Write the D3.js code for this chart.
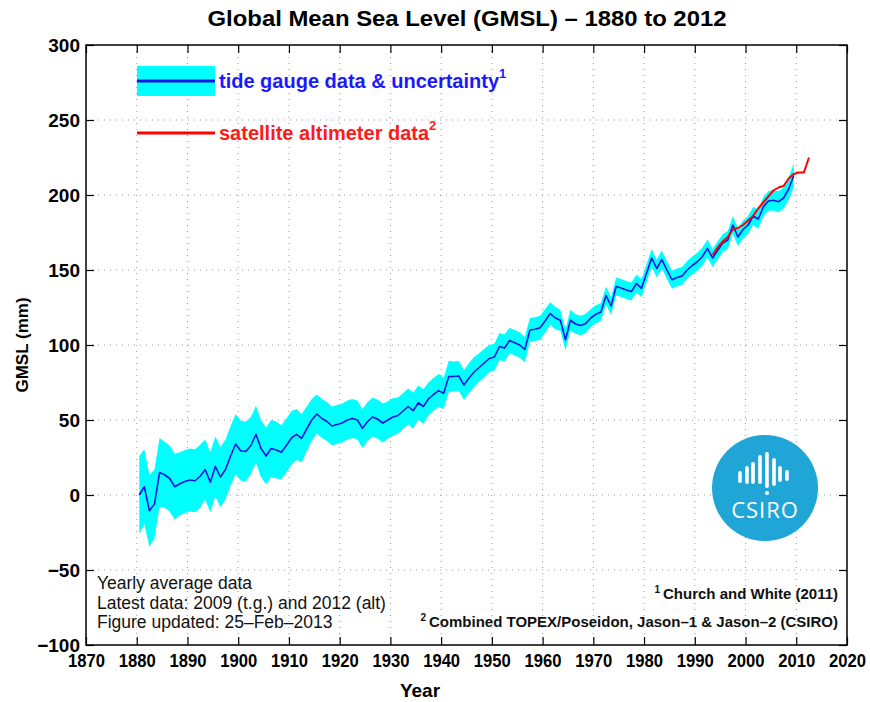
<!DOCTYPE html>
<html><head><meta charset="utf-8">
<script src="https://cdn.jsdelivr.net/npm/d3@7"></script>
<style>
html,body{margin:0;padding:0;background:#fff;}
svg{display:block;font-family:"Liberation Sans",Arial,Helvetica,sans-serif;}
</style></head><body>
<svg id="chart" width="870" height="702"></svg>
<script>
// ---------------- DATA ----------------
const tideStartYear = 1880;           // yearly means, plotted at mid-year
const tideValues = [
  0, 5.5, -10.5, -6, 15, 13.5, 11, 5.5, 7.5, 9,            // 1880s
  10, 9.5, 12.5, 17, 8.5, 19, 12, 17, 26, 34,              // 1890s
  29.5, 29, 33, 40.5, 31, 26, 31, 30, 28.5, 33,            // 1900s
  38, 40.4, 37.8, 44, 50, 54, 51, 49, 46, 47,              // 1910s
  48, 50, 51, 50, 44.4, 49, 52, 50.5, 48, 50,              // 1920s
  52, 53, 56, 59, 56.2, 61.5, 59, 64, 67, 69.6,            // 1930s
  67.8, 79, 79, 79.3, 73.3, 78, 82, 85, 88, 91,            // 1940s
  92, 99, 98, 103, 101.5, 100, 97, 110, 110.5, 111.5,      // 1950s
  116, 121, 118, 116.5, 103.5, 116.5, 114, 113, 114.4, 118,// 1960s
  120.5, 122, 133, 126, 139, 138, 136.7, 135.6, 141, 137.8,// 1970s
  148, 158, 151, 157, 150, 143.5, 145, 146, 150, 153,      // 1980s
  155.5, 159, 164.4, 158, 163, 168, 170, 180, 172, 177,    // 1990s
  180, 186, 184, 192, 196, 196.5, 195.5, 198, 204, 213     // 2000s
];
const tideUncertainty = [
  26, 25, 24, 23, 23, 22, 22, 22, 21, 21,
  21, 21, 21, 20, 20, 20, 20, 20, 20, 20,
  20, 20, 19, 19, 19, 19, 19, 19, 18, 18,
  18, 17, 16, 15, 14, 13, 13, 13, 13, 13,
  13, 13, 13, 13, 13, 13, 13, 13, 13, 12.5,
  12.5, 12, 12, 12, 12, 11.5, 11.5, 11, 11, 11,
  10.5, 10.5, 10, 10, 10, 10, 10, 9.5, 9.5, 9,
  9, 9, 9, 8.5, 8.5, 8.5, 8.5, 8, 8, 8,
  8, 7.5, 7.5, 7, 7, 7, 6.5, 6.5, 6.5, 6,
  6, 6, 6, 6, 6, 6, 6, 6, 6, 6,
  6, 6, 6, 6, 6, 6, 6, 6, 6, 6,
  6, 6, 6, 6, 6, 6, 6, 6, 6, 6,
  6, 6, 6.5, 6.5, 6.5, 7, 7, 7, 7.5, 8
];
const satStartYear = 1993;
const satValues = [160, 165, 169, 172, 177, 178, 180, 183, 186, 191,
                   195, 199, 203, 205, 206, 211, 214, 215, 215, 225];
const xTicks = [1870, 1880, 1890, 1900, 1910, 1920, 1930, 1940, 1950, 1960, 1970, 1980, 1990, 2000, 2010, 2020];
const yTicks = [-100, -50, 0, 50, 100, 150, 200, 250, 300];
const titleText = "Global Mean Sea Level (GMSL) \u2013 1880 to 2012";
const xTitle = "Year";
const yTitle = "GMSL (mm)";
const legendLabels = ["tide gauge data & uncertainty", "satellite altimeter data"];
const notesLeft = ["Yearly average data", "Latest data: 2009 (t.g.) and 2012 (alt)", "Figure updated: 25\u2013Feb\u20132013"];
const notesRight = [["1", "Church and White (2011)"], ["2", "Combined TOPEX/Poseidon, Jason\u20131 & Jason\u20132 (CSIRO)"]];

// ---------------- CHART ----------------
const svg = d3.select("#chart");
const L = 86, R = 847, T = 45, B = 645;
const x = d3.scaleLinear().domain([1870, 2020]).range([L, R]);
const y = d3.scaleLinear().domain([-100, 300]).range([B, T]);

const tide = tideValues.map((v, i) => ({year: tideStartYear + i + 0.5, v, u: tideUncertainty[i]}));
const sat = satValues.map((v, i) => ({year: satStartYear + i + 0.5, v}));

// grid
const grid = svg.append("g").attr("stroke", "#9a9a9a").attr("stroke-width", 1).attr("stroke-dasharray", "1,5");
grid.selectAll("line.gx").data(xTicks.slice(1, -1)).join("line")
  .attr("x1", d => x(d)).attr("x2", d => x(d)).attr("y1", T).attr("y2", B);
grid.selectAll("line.gy").data(yTicks.slice(1, -1)).join("line")
  .attr("y1", d => y(d)).attr("y2", d => y(d)).attr("x1", L).attr("x2", R);

// uncertainty band
svg.append("path").datum(tide)
  .attr("fill", "#00ffff")
  .attr("d", d3.area().x(d => x(d.year)).y0(d => y(d.v - d.u)).y1(d => y(d.v + d.u)));
// tide gauge line
svg.append("path").datum(tide)
  .attr("fill", "none").attr("stroke", "#0a14e6").attr("stroke-width", 1.6).attr("stroke-linejoin", "round")
  .attr("d", d3.line().x(d => x(d.year)).y(d => y(d.v)));
// satellite line
svg.append("path").datum(sat)
  .attr("fill", "none").attr("stroke", "#ff0000").attr("stroke-width", 2).attr("stroke-linejoin", "round")
  .attr("d", d3.line().x(d => x(d.year)).y(d => y(d.v)));

// axes (inward ticks on all four sides)
const fs = 19;
const gx = svg.append("g").attr("transform", `translate(0,${B})`)
  .call(d3.axisBottom(x).tickValues(xTicks).tickFormat(d3.format("d")).tickSizeInner(-8).tickSizeOuter(0).tickPadding(9));
gx.selectAll("text").attr("font-size", fs).attr("font-weight", "bold").attr("fill", "#000")
  .attr("textLength", 37).attr("lengthAdjust", "spacingAndGlyphs");
const gy = svg.append("g").attr("transform", `translate(${L},0)`)
  .call(d3.axisLeft(y).tickValues(yTicks).tickFormat(d3.format("d")).tickSizeInner(-8).tickSizeOuter(0).tickPadding(6));
gy.selectAll("text").attr("font-size", fs).attr("font-weight", "bold").attr("fill", "#000");
const gt = svg.append("g").attr("transform", `translate(0,${T})`)
  .call(d3.axisTop(x).tickValues(xTicks).tickFormat("").tickSizeInner(-8).tickSizeOuter(0));
const gr = svg.append("g").attr("transform", `translate(${R},0)`)
  .call(d3.axisRight(y).tickValues(yTicks).tickFormat("").tickSizeInner(-8).tickSizeOuter(0));
[gx, gy, gt, gr].forEach(g => {
  g.select(".domain").remove();
  g.selectAll(".tick line").attr("stroke", "#000").attr("stroke-width", 1.2);
  g.attr("font-family", null);
});
svg.append("rect").attr("x", L).attr("y", T).attr("width", R - L).attr("height", B - T)
  .attr("fill", "none").attr("stroke", "#000").attr("stroke-width", 1.5);

// titles
svg.append("text").attr("x", 467).attr("y", 26).attr("text-anchor", "middle")
  .attr("font-size", 22).attr("font-weight", "bold").attr("textLength", 519).attr("lengthAdjust", "spacingAndGlyphs")
  .text(titleText);
svg.append("text").attr("x", 420).attr("y", 697).attr("text-anchor", "middle")
  .attr("font-size", 19).attr("font-weight", "bold").text(xTitle);
svg.append("text").attr("transform", "translate(28,345) rotate(-90)").attr("text-anchor", "middle")
  .attr("font-size", 17).attr("font-weight", "bold").text(yTitle);

// legend
const lg = svg.append("g");
lg.append("rect").attr("x", 137).attr("y", 66).attr("width", 78).attr("height", 30).attr("fill", "#00ffff");
lg.append("line").attr("x1", 137).attr("x2", 215).attr("y1", 81).attr("y2", 81).attr("stroke", "#0a14e6").attr("stroke-width", 3);
lg.append("line").attr("x1", 137).attr("x2", 215).attr("y1", 133).attr("y2", 133).attr("stroke", "#ff0000").attr("stroke-width", 3);
const lt1 = lg.append("text").attr("x", 219).attr("y", 88).attr("font-size", 20).attr("font-weight", "bold").attr("fill", "#1a1aff");
lt1.append("tspan").text(legendLabels[0]);
lt1.append("tspan").attr("dy", -10).attr("font-size", 13).text("1");
const lt2 = lg.append("text").attr("x", 219).attr("y", 140).attr("font-size", 20).attr("font-weight", "bold").attr("fill", "#ff1a1a");
lt2.append("tspan").text(legendLabels[1]);
lt2.append("tspan").attr("dy", -10).attr("font-size", 13).text("2");

// notes
svg.append("g").selectAll("text").data(notesLeft).join("text")
  .attr("x", 97).attr("y", (d, i) => 589 + i * 19.5)
  .attr("font-size", 17.5).attr("fill", "#111").text(d => d);
const nr = svg.append("g").selectAll("text").data(notesRight).join("text")
  .attr("x", 838).attr("y", (d, i) => 599 + i * 28).attr("text-anchor", "end")
  .attr("font-size", 15).attr("font-weight", "bold").attr("fill", "#111");
nr.append("tspan").attr("font-size", 10).attr("dy", -6).text(d => d[0]);
nr.append("tspan").attr("dy", 6).text(d => "\u2009" + d[1]);

// CSIRO logo
const logo = svg.append("g").attr("transform", "translate(765,488)");
logo.append("circle").attr("r", 53).attr("fill", "#1fa6d6");
const bars = [[-25, -17, -5], [-18, -22, -4], [-12, -26, -4], [-5, -33, -4], [2, -36, 0], [9, -30, -2], [15, -22, -6], [22, -18, -7]];
logo.selectAll("rect").data(bars).join("rect")
  .attr("x", d => d[0] - 1.8).attr("y", d => d[1]).attr("width", 3.6).attr("height", d => d[2] - d[1])
  .attr("rx", 1.8).attr("fill", "#fff");
logo.append("circle").attr("cx", 2).attr("cy", 5).attr("r", 2).attr("fill", "#fff");
logo.append("text").attr("y", 30).attr("text-anchor", "middle").attr("font-size", 22)
  .attr("fill", "#fff").attr("letter-spacing", 1).attr("font-family", "'Open Sans', 'Liberation Sans', sans-serif").text("CSIRO");
</script>
</body></html>
